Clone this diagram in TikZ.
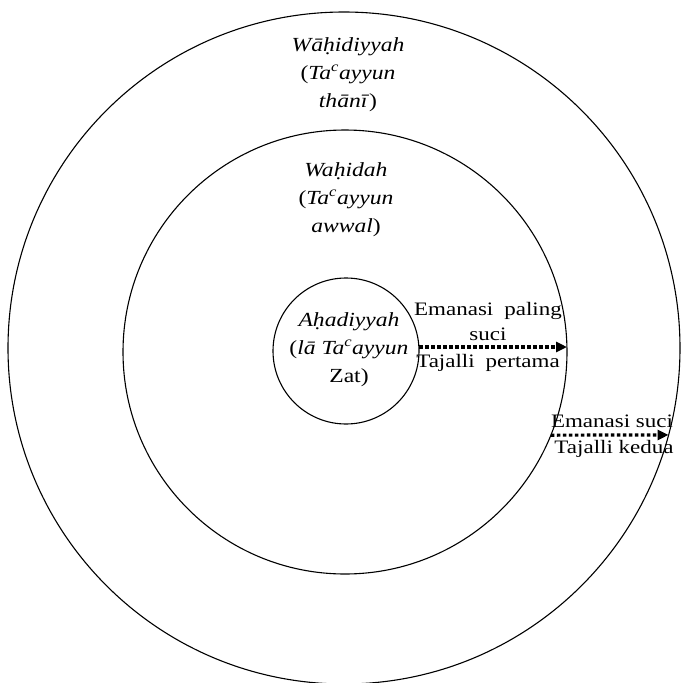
\documentclass[tikz,border=0pt]{standalone}
\usepackage{fontspec}
\setmainfont{Liberation Serif}[FakeStretch=1.18]
\newfontfamily\notefont{Liberation Serif}[FakeStretch=1.21]
\usetikzlibrary{arrows.meta}
\begin{document}
\begin{tikzpicture}[x=1pt,y=-1pt,
  ring/.style={circle,draw,line width=1.1pt,inner sep=0pt,outer sep=0pt},
  lbl/.style={align=center,font=\fontsize{20}{28}\selectfont\itshape,inner sep=0pt,anchor=base},
  note/.style={align=center,font=\notefont\fontsize{19}{25}\selectfont,inner sep=0pt,anchor=base},
  flow/.style={line width=3.2pt,dash pattern=on 3.5pt off 2.5pt,-{Triangle[length=11pt,width=10pt]}}]
\useasboundingbox (0,0) rectangle (681,683);
\node[ring,minimum size=672pt] (out) at (344,348) {};
\node[ring,minimum size=444pt] (mid) at (345,352) {};
\node[ring,minimum size=146pt] (in) at (346,351) {};
\node[lbl] (l1) at (348,107) {Wāḥidiyyah\\\textup{(}Ta\textsuperscript{c}ayyun\\thānī\textup{)}};
\node[lbl] (l2) at (346,232) {Waḥidah\\\textup{(}Ta\textsuperscript{c}ayyun\\awwal\textup{)}};
\node[lbl] (l3) at (349,382) {Aḥadiyyah\\\textup{(}lā Ta\textsuperscript{c}ayyun\\\textup{Zat)}};
\coordinate (a1) at ([yshift=4pt]in.east);
\draw[flow] (a1) -- (a1 -| mid.east);
\draw[flow] (mid.-22) -- (out.-15);
\node[note] (n1) at (488,340) {Emanasi\hspace{11pt}paling\\suci};
\node[note] (n2) at (488,367) {Tajalli\hspace{11pt}pertama};
\node[note] (n3) at (612,427) {Emanasi suci};
\node[note] (n4) at (614,453) {Tajalli kedua};
\end{tikzpicture}
\end{document}
